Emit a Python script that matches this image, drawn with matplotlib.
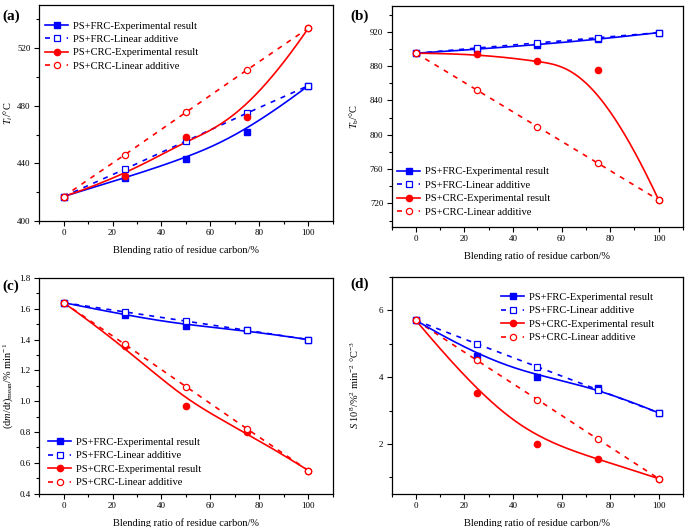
import numpy as np
import matplotlib
matplotlib.use("Agg")
import matplotlib.pyplot as plt
from matplotlib.ticker import MultipleLocator

plt.rcParams['font.family'] = ['Liberation Serif', 'DejaVu Serif']
plt.rcParams['mathtext.fontset'] = 'custom'
plt.rcParams['mathtext.rm'] = 'Liberation Serif'
plt.rcParams['mathtext.it'] = 'Liberation Serif:italic'

ratio = [0, 25, 50, 75, 100]

# (a) Ti
a_frc_exp = [417, 430, 443, 462, 494]
a_frc_lin = [417, 436, 455.5, 475, 494]
a_crc_exp = [417, 431, 458, 472, 534]
a_crc_lin = [417, 446, 475.5, 505, 534]

# (b) Tb
b_frc_exp = [895, 899.5, 905, 911, 919]
b_frc_lin = [895, 901, 907, 913, 919]
b_crc_exp = [895, 894.5, 886, 875, 724]
b_crc_lin = [895, 852.3, 809.5, 766.8, 724]

# (c) (dm/dt)mean
c_frc_exp = [1.64, 1.56, 1.49, 1.46, 1.40]
c_frc_lin = [1.64, 1.58, 1.52, 1.46, 1.40]
c_crc_exp = [1.64, 1.36, 0.97, 0.80, 0.55]
c_crc_lin = [1.64, 1.37, 1.095, 0.82, 0.55]

# (d) S
d_frc_exp = [5.70, 4.64, 4.00, 3.68, 2.93]
d_frc_lin = [5.70, 5.00, 4.31, 3.62, 2.93]
d_crc_exp = [5.70, 3.53, 2.00, 1.56, 0.96]
d_crc_lin = [5.70, 4.51, 3.33, 2.14, 0.96]

labels = ['PS+FRC-Experimental result', 'PS+FRC-Linear additive',
          'PS+CRC-Experimental result', 'PS+CRC-Linear additive']

BLUE = '#0000FF'
RED = '#FF0000'


def bspline(xs, ys, n=300, k=3):
    P = np.column_stack([xs, ys]).astype(float)
    m = len(P)
    inner = np.linspace(0, 1, m - k + 1)[1:-1]
    knots = np.concatenate([np.zeros(k + 1), inner, np.ones(k + 1)])
    t = np.linspace(0, 1, n)
    nb = len(knots) - 1
    N = np.zeros((n, nb))
    for i in range(nb):
        N[:, i] = (knots[i] <= t) & (t < knots[i + 1])
    last = max(i for i in range(nb) if knots[i] < knots[i + 1])
    N[t >= 1.0, last] = 1.0
    for p in range(1, k + 1):
        Nn = np.zeros((n, nb - p))
        for i in range(nb - p):
            a = 0.0
            d1 = knots[i + p] - knots[i]
            if d1 > 0:
                a = (t - knots[i]) / d1 * N[:, i]
            b = 0.0
            d2 = knots[i + p + 1] - knots[i + 1]
            if d2 > 0:
                b = (knots[i + p + 1] - t) / d2 * N[:, i + 1]
            Nn[:, i] = a + b
        N = Nn
    C = N[:, :m] @ P
    return C[:, 0], C[:, 1]


fig = plt.figure(figsize=(6.85, 5.27), dpi=100)

specs = [
    dict(rect=[0.057, 0.5806, 0.429, 0.4099], data=(a_frc_exp, a_frc_lin, a_crc_exp, a_crc_lin),
         ylim=(400, 550), major=40, minor=20, ylabel=r'$\mathit{T}_{\mathit{i}}$/°C',
         leg=dict(loc='upper left', bbox_to_anchor=(0.02, 0.925)), ylx=-0.082,
         tag='(a)', tagpos=(0.004, 0.981), fmt='{:.0f}'),
    dict(rect=[0.5718, 0.570, 0.4252, 0.4186], data=(b_frc_exp, b_frc_lin, b_crc_exp, b_crc_lin),
         ylim=(693, 950), major=40, minor=20, ylabel=r'$\mathit{T}_{\mathrm{b}}$/°C',
         leg=dict(loc='lower left', bbox_to_anchor=(0.019, 0.045)), ylx=-0.105,
         tag='(b)', tagpos=(0.512, 0.981), fmt='{:.0f}'),
    dict(rect=[0.057, 0.0632, 0.429, 0.4093], data=(c_frc_exp, c_frc_lin, c_crc_exp, c_crc_lin),
         ylim=(0.4, 1.8), major=0.2, minor=0.1,
         ylabel=r'(d$\mathit{m}$/d$\mathit{t}$)$_{\mathrm{mean}}$/% min$^{-1}$',
         leg=dict(loc='lower left', bbox_to_anchor=(0.031, 0.03)), ylx=-0.082,
         tag='(c)', tagpos=(0.004, 0.47), fmt='{:.1f}'),
    dict(rect=[0.5718, 0.0626, 0.4252, 0.4118], data=(d_frc_exp, d_frc_lin, d_crc_exp, d_crc_lin),
         ylim=(0.5, 7.0), major=2, minor=1,
         ylabel=r'$\mathit{S}$ 10$^{8}$/%$^{2}$ min$^{-2}$ °C$^{-3}$',
         leg=dict(loc='upper left', bbox_to_anchor=(0.375, 0.928)), ylx=-0.105,
         tag='(d)', tagpos=(0.512, 0.474), fmt='{:.0f}'),
]

for s in specs:
    ax = fig.add_axes(s['rect'])
    fe, fl, ce, cl = s['data']
    # experimental: B-spline curves + filled markers
    bx, by = bspline(ratio, fe)
    ax.plot(bx, by, color=BLUE, lw=1.2, zorder=3)
    bx, by = bspline(ratio, ce)
    ax.plot(bx, by, color=RED, lw=1.2, zorder=3)
    ax.plot(ratio, fl, color=BLUE, lw=1.2, ls=(0, (3, 3.5)), zorder=2)
    ax.plot(ratio, cl, color=RED, lw=1.2, ls=(0, (3, 3.5)), zorder=2)
    ax.plot(ratio, fe, ls='none', marker='s', ms=4.5, color=BLUE, zorder=4)
    ax.plot(ratio, fl, ls='none', marker='s', ms=4.5, mfc='white', mec=BLUE, mew=0.9, zorder=4)
    ax.plot(ratio, ce, ls='none', marker='o', ms=4.5, color=RED, zorder=4)
    ax.plot(ratio, cl, ls='none', marker='o', ms=4.5, mfc='white', mec=RED, mew=0.9, zorder=4)

    # legend proxies
    h1, = ax.plot([], [], color=BLUE, lw=1.2, marker='s', ms=4.5)
    h2, = ax.plot([], [], color=BLUE, lw=1.2, ls=(0, (3, 3.5)), marker='s', ms=4.5, mfc='white', mew=0.9)
    h3, = ax.plot([], [], color=RED, lw=1.2, marker='o', ms=4.5)
    h4, = ax.plot([], [], color=RED, lw=1.2, ls=(0, (3, 3.5)), marker='o', ms=4.5, mfc='white', mew=0.9)
    ax.legend([h1, h2, h3, h4], labels, frameon=False, fontsize=7.6,
              handlelength=2.2, labelspacing=0.38, handletextpad=0.47,
              borderpad=0, borderaxespad=0, **s['leg'])

    ax.set_xlim(-10, 110)
    ax.set_ylim(*s['ylim'])
    ax.xaxis.set_major_locator(MultipleLocator(20))
    ax.xaxis.set_minor_locator(MultipleLocator(10))
    ax.yaxis.set_major_locator(MultipleLocator(s['major']))
    ax.yaxis.set_minor_locator(MultipleLocator(s['minor']))
    fmt = s['fmt']
    ax.yaxis.set_major_formatter(plt.FuncFormatter(lambda v, p, f=fmt: f.format(v)))
    ax.tick_params(which='both', direction='out', labelsize=6.5, width=0.8, top=False, right=False, pad=2.5)
    ax.tick_params(which='major', length=3.5)
    ax.tick_params(which='minor', length=2)
    for sp in ax.spines.values():
        sp.set_linewidth(0.9)
    ax.set_xlabel('Blending ratio of residue carbon/%', fontsize=7.5, labelpad=6)
    ax.set_ylabel(s['ylabel'], fontsize=7.5)
    ax.yaxis.set_label_coords(s['ylx'], 0.5)
    fig.text(s['tagpos'][0], s['tagpos'][1], s['tag'], fontsize=11, fontweight='bold',
             va='top', ha='left')

fig.savefig('out.png', dpi=100)
